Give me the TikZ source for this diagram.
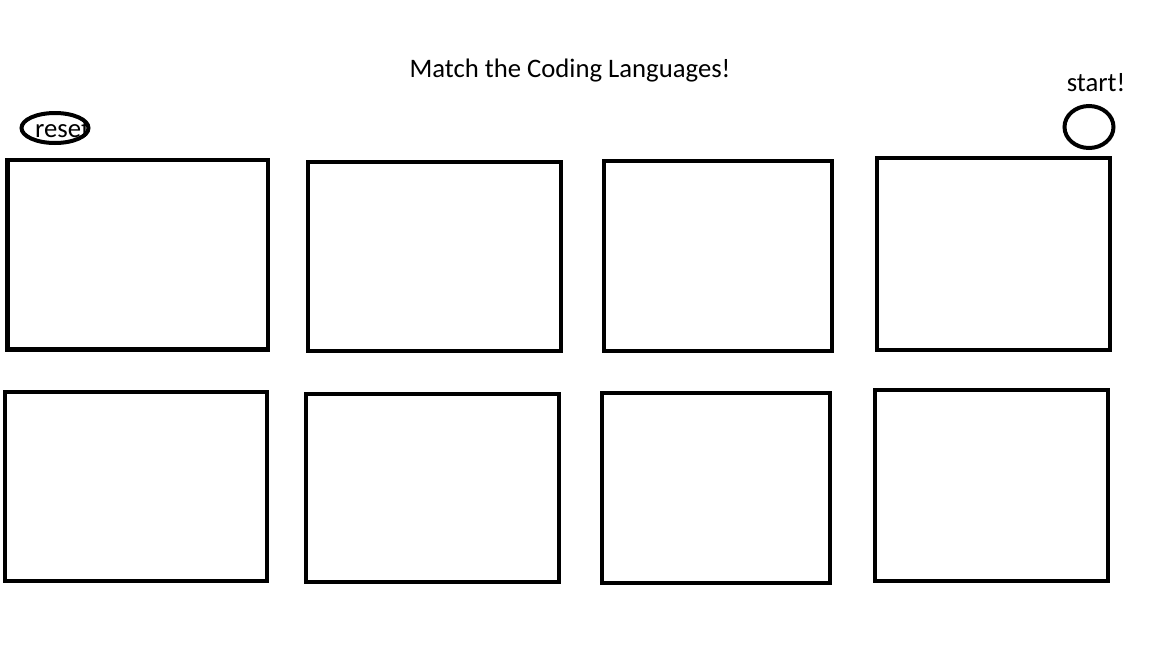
\documentclass[tikz,border=0pt]{standalone}
\usepackage{fontspec}
\setmainfont{Carlito}
\usepackage{tikz}
\usetikzlibrary{positioning,shapes.geometric}
\tikzset{
    card/.style={rectangle,draw=black,line width=4.5pt,inner sep=0pt},
    btn/.style={ellipse,draw=black,line width=4pt,inner sep=0pt},
    lbl/.style={inner sep=0pt,font=\fontsize{26.7}{32}\selectfont},
}
\begin{document}
\begin{tikzpicture}[x=1pt,y=-1pt]
\useasboundingbox (0,0) rectangle (1152,648);
\node[lbl] (title) at (570,71) {Match the Coding Languages!};
% reset button, label runs under the rim
\begin{scope}
\clip (55,128) ellipse [x radius=35,y radius=17];
\node[lbl,anchor=base west] (resettxt) at (35,137) {reset};
\end{scope}
\node[btn,minimum width=67pt,minimum height=30pt] (reset) at (55,128) {};
% start button
\node[btn,minimum width=49pt,minimum height=42pt] (start) at (1089,127) {};
\node[lbl,above=12pt of start,xshift=7pt] (starttxt) {start!};
% top row
\node[card,minimum width=260.5pt,minimum height=189.5pt] (c1) at (137.75,254.75) {};
\node[card,minimum width=253pt,minimum height=189pt] (c2) at (434.5,256.5) {};
\node[card,minimum width=228pt,minimum height=190pt] (c3) at (718,256) {};
\node[card,minimum width=233pt,minimum height=192pt] (c4) at (993.5,254) {};
% bottom row
\node[card,minimum width=262pt,minimum height=189pt] (c5) at (136,486.5) {};
\node[card,minimum width=253pt,minimum height=188pt] (c6) at (432.5,488) {};
\node[card,minimum width=228pt,minimum height=190pt] (c7) at (716,488) {};
\node[card,minimum width=233pt,minimum height=191pt] (c8) at (991.5,485.5) {};
\end{tikzpicture}
\end{document}
